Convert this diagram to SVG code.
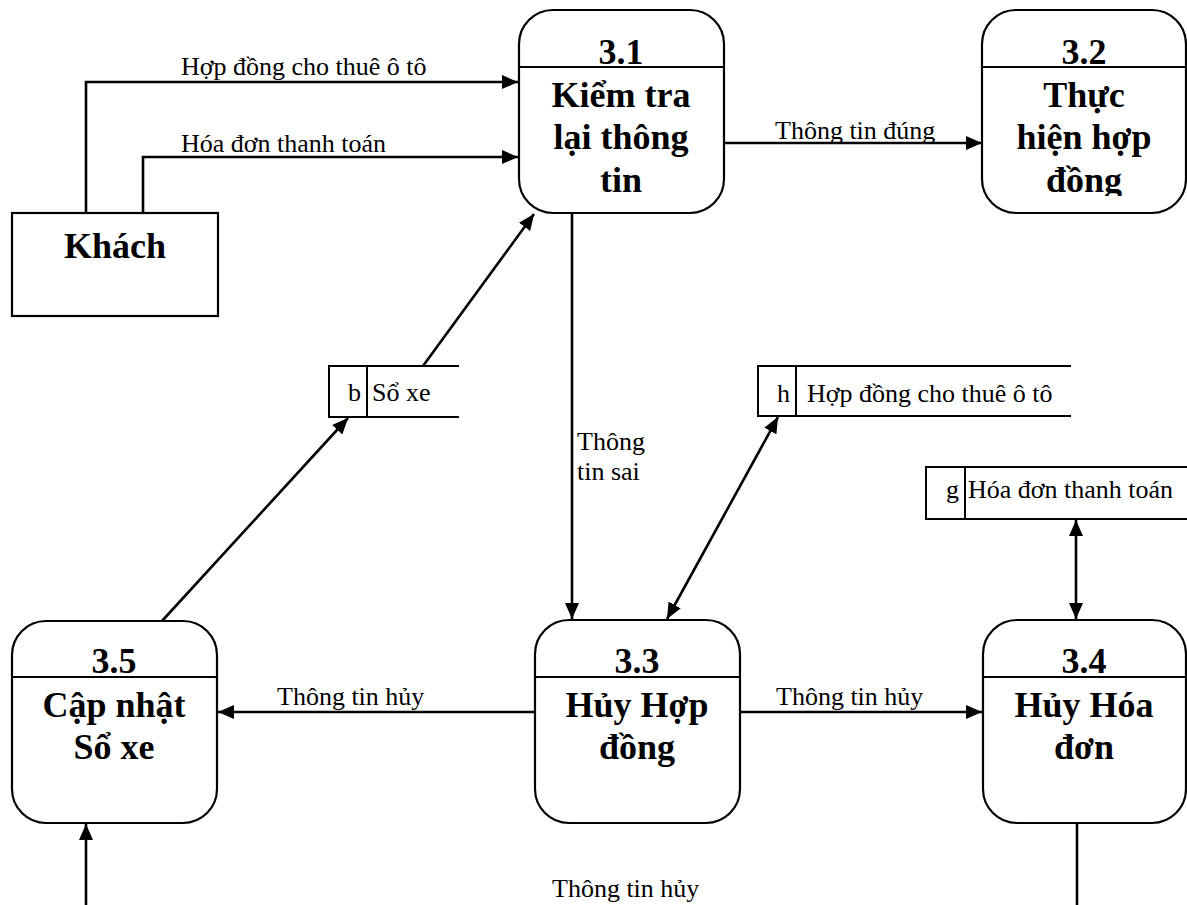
<svg xmlns="http://www.w3.org/2000/svg" width="1187" height="905" viewBox="0 0 1187 905">
  <style>
    .box { fill: #fff; stroke: #000; stroke-width: 2.2; }
    .div { stroke: #000; stroke-width: 2; }
    .store { fill: none; stroke: #000; stroke-width: 2; }
    .title { font-family: "Liberation Serif", "Times New Roman", serif; font-weight: bold; font-size: 36px; text-anchor: middle; fill: #000; }
    .lbl { font-family: "Liberation Serif", "Times New Roman", serif; font-size: 26px; fill: #000; }
    .flow { fill: none; stroke: #000; stroke-width: 2.6; }
  </style>
  <defs>
    <marker id="arrow" markerUnits="userSpaceOnUse" markerWidth="17" markerHeight="14" refX="16" refY="7" orient="auto-start-reverse">
      <path d="M0,0 L16,7 L0,14 Z" fill="#000"/>
    </marker>
    <clipPath id="clip32">
      <rect x="982" y="67" width="205" height="129"/>
    </clipPath>
  </defs>

  <rect width="1187" height="905" fill="#fff"/>

  <!-- external entity -->
  <g id="khach">
    <rect class="box" x="12" y="213" width="206" height="103"/>
    <text class="title" x="115" y="258">Khách</text>
  </g>

  <!-- process 3.1 -->
  <g id="p31">
    <rect class="box" x="519" y="10" width="205" height="203" rx="34"/>
    <line class="div" x1="519" y1="67" x2="724" y2="67"/>
    <text class="title" x="621" y="64">3.1</text>
    <text class="title" x="621" y="107">Kiểm tra</text>
    <text class="title" x="621" y="149">lại thông</text>
    <text class="title" x="621" y="192">tin</text>
  </g>

  <!-- process 3.2 (last line clipped by its text frame) -->
  <g id="p32">
    <rect class="box" x="982" y="10" width="204" height="203" rx="34"/>
    <line class="div" x1="982" y1="67" x2="1186" y2="67"/>
    <text class="title" x="1084" y="64">3.2</text>
    <g clip-path="url(#clip32)">
      <text class="title" x="1084" y="107">Thực</text>
      <text class="title" x="1084" y="149">hiện hợp</text>
      <text class="title" x="1084" y="192">đồng</text>
    </g>
  </g>

  <!-- process 3.3 -->
  <g id="p33">
    <rect class="box" x="535" y="620" width="205" height="203" rx="34"/>
    <line class="div" x1="535" y1="677" x2="740" y2="677"/>
    <text class="title" x="637" y="673">3.3</text>
    <text class="title" x="637" y="717">Hủy Hợp</text>
    <text class="title" x="637" y="759">đồng</text>
  </g>

  <!-- process 3.4 -->
  <g id="p34">
    <rect class="box" x="983" y="620" width="203" height="203" rx="34"/>
    <line class="div" x1="983" y1="677" x2="1186" y2="677"/>
    <text class="title" x="1084" y="673">3.4</text>
    <text class="title" x="1084" y="717">Hủy Hóa</text>
    <text class="title" x="1084" y="759">đơn</text>
  </g>

  <!-- process 3.5 -->
  <g id="p35">
    <rect class="box" x="12" y="621" width="205" height="202" rx="34"/>
    <line class="div" x1="12" y1="677" x2="217" y2="677"/>
    <text class="title" x="114" y="673">3.5</text>
    <text class="title" x="114" y="717">Cập nhật</text>
    <text class="title" x="114" y="759">Sổ xe</text>
  </g>

  <!-- data store b -->
  <g id="store-b">
    <path class="store" d="M459,366 H329 V417 H459 M367,366 V417"/>
    <text class="lbl" x="361" y="401" text-anchor="end">b</text>
    <text class="lbl" x="372" y="401">Sổ xe</text>
  </g>

  <!-- data store h -->
  <g id="store-h">
    <path class="store" d="M1071,366 H758 V416 H1071 M796,366 V416"/>
    <text class="lbl" x="790" y="402" text-anchor="end">h</text>
    <text class="lbl" x="807" y="402">Hợp đồng cho thuê ô tô</text>
  </g>

  <!-- data store g -->
  <g id="store-g">
    <path class="store" d="M1187,467 H926 V519 H1187 M965,467 V519"/>
    <text class="lbl" x="959" y="498" text-anchor="end">g</text>
    <text class="lbl" x="968" y="498">Hóa đơn thanh toán</text>
  </g>

  <!-- data flows -->
  <g id="flows">
    <polyline class="flow" points="86,212 86,82 518,82" marker-end="url(#arrow)"/>
    <polyline class="flow" points="143,212 143,157 518,157" marker-end="url(#arrow)"/>
    <line class="flow" x1="724" y1="143" x2="982" y2="143" marker-end="url(#arrow)"/>
    <line class="flow" x1="572" y1="213" x2="572" y2="619" marker-end="url(#arrow)"/>
    <line class="flow" x1="423" y1="366" x2="534" y2="214" marker-end="url(#arrow)"/>
    <line class="flow" x1="162" y1="621" x2="348" y2="418" marker-end="url(#arrow)"/>
    <line class="flow" x1="667" y1="619" x2="778" y2="417" marker-start="url(#arrow)" marker-end="url(#arrow)"/>
    <line class="flow" x1="1076" y1="520" x2="1076" y2="619" marker-start="url(#arrow)" marker-end="url(#arrow)"/>
    <line class="flow" x1="535" y1="712" x2="218" y2="712" marker-end="url(#arrow)"/>
    <line class="flow" x1="740" y1="712" x2="982" y2="712" marker-end="url(#arrow)"/>
    <line class="flow" x1="1077" y1="823" x2="1077" y2="905"/>
    <line class="flow" x1="86" y1="905" x2="86" y2="824" marker-end="url(#arrow)"/>

    <text class="lbl" x="181" y="75">Hợp đồng cho thuê ô tô</text>
    <text class="lbl" x="181" y="152">Hóa đơn thanh toán</text>
    <text class="lbl" x="775" y="139">Thông tin đúng</text>
    <text class="lbl" x="577" y="450">Thông</text>
    <text class="lbl" x="577" y="480">tin sai</text>
    <text class="lbl" x="277" y="705">Thông tin hủy</text>
    <text class="lbl" x="776" y="705">Thông tin hủy</text>
    <text class="lbl" x="552" y="897">Thông tin hủy</text>
  </g>
</svg>
